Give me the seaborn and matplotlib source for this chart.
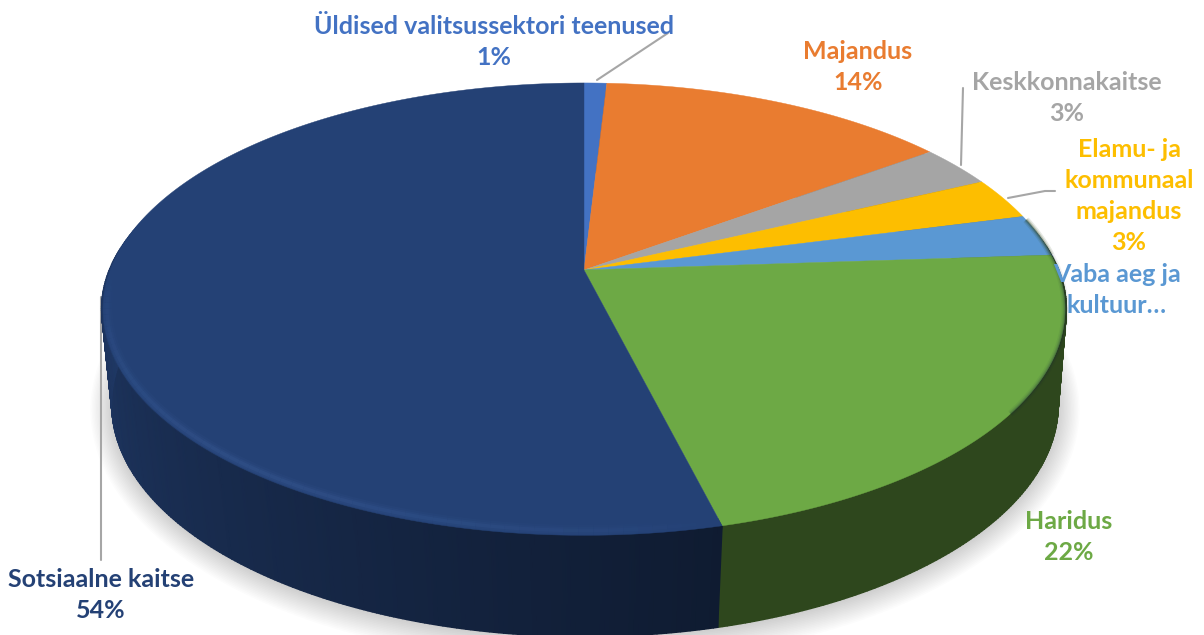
import matplotlib.pyplot as plt
import numpy as np
import seaborn as sns

labels = ['Üldised valitsussektori teenused\n1%', 'Majandus\n14%', 'Keskkonnakaitse\n3%',
          'Elamu- ja\nkommunaal\nmajandus\n3%', 'Vaba aeg ja\nkultuur…', 'Sotsiaalne kaitse\n54%', 'Haridus\n22%']
categories = ['Üldised', 'Majandus', 'Keskkond', 'Elamu', 'Vaba aeg', 'Haridus', 'Sotsiaalne']
values = [0.9, 14.0, 3.0, 3.0, 3.0, 22.2, 53.9]
colors = ['#4372C3', '#E97C30', '#A5A5A5', '#FDBE00', '#5A98D3', '#6DA945', '#244175']

sns.set_theme(style='white')
plt.rcParams['font.family'] = ['Lato', 'DejaVu Sans']
palette = sns.color_palette(colors)

# perspective of the disc: (half width, half height, tilt, centre x, centre y)
top_face = (473.8, 219.4, 0.173, 584, 270)
side_top = (475.3, 212, 0.173, 584, 271)
bottom = (468, 226.8, 0.15, 585, 370)


def project(deg, disc):
    g, f, k, cx, cy = disc
    a = np.radians(deg)
    d = 1 + k * np.cos(a)
    return cx + g * np.sin(a) / d, cy - f * np.cos(a) / d


def arc(start, end, disc):
    return project(np.linspace(start, end, max(int(abs(end - start) * 2), 2)), disc)


fig, ax = plt.subplots(figsize=(12.04, 6.35), dpi=100)
fig.subplots_adjust(0, 0, 1, 1)
ax.set_xlim(0, 1204)
ax.set_ylim(635, 0)
ax.axis('off')

edges = np.cumsum([0] + values) * 3.6

# soft shadow under the disc
for i in range(16):
    g, f, k, cx, cy = bottom
    sx, sy = arc(0, 360, (g + i * 1.4, f + i * 1.4, k, cx, cy + 2))
    ax.fill(sx, sy, color='black', alpha=0.01, lw=0, zorder=1)

# side wall, one smooth mesh per slice
for c, start, end in zip(palette, edges[:-1], edges[1:]):
    x0, y0 = arc(start, end, side_top)
    x1, y1 = arc(start, end, bottom)
    shade = np.clip(0.42 + 0.43 * (np.linspace(start, end, len(x0)) - 166) / 104, 0.42, 0.85)
    cmap = sns.blend_palette([np.array(c) * 0.42, np.array(c) * 0.85], as_cmap=True)
    ax.pcolormesh(np.array([x0, x1]), np.array([y0, y1]), np.array([shade, shade]),
                  shading='gouraud', cmap=cmap, vmin=0.42, vmax=0.85, zorder=2)

# face of the disc
for c, start, end in zip(palette, edges[:-1], edges[1:]):
    x, y = arc(start, end, top_face)
    ax.fill(np.r_[584, x], np.r_[270, y], color=c, lw=0.3, zorder=3)

# blurred edge: lit on the navy part, dark on the green part
inset = (469.8, 215.4, 0.173, 584, 270)
for a0 in np.arange(edges[5], 275, 1.5):
    x, y = arc(a0, a0 + 1.5, inset)
    glow = np.clip(np.sin(np.radians((a0 - 166) * 1.75)), 0, 1) ** 0.7
    for lw, al in [(8, 0.06), (5, 0.09), (2.5, 0.13)]:
        ax.plot(x, y, color='#4a70b0', lw=lw, alpha=al * glow, zorder=4, solid_capstyle='butt')
for lw, al in [(5, 0.12), (3, 0.2), (1.5, 0.3)]:
    x, y = arc(edges[4] + 1, edges[5], top_face)
    ax.plot(x, y, color='#2E451C', lw=lw, alpha=al, zorder=4, solid_capstyle='butt')
    x, y = arc(edges[5], edges[5] + 40, top_face)
    ax.plot(x, y, color='#101e38', lw=lw, alpha=al * 0.5, zorder=4, solid_capstyle='butt')

# leader lines
line_col = '#A6A6A6'
ax.plot([668, 597], [33, 80], color=line_col, lw=1.5, zorder=5)
ax.plot([963, 961], [88, 165], color=line_col, lw=1.5, zorder=5)
ax.plot([1055, 1045, 1008], [191, 191, 198], color=line_col, lw=1.5, zorder=5)
ax.plot([101, 101], [297, 560], color=line_col, lw=1.5, zorder=1.5)

label_pos = [(494, 42), (858, 67), (1067, 98), (1129, 196), (1117, 290), (101, 595), (1069, 537)]
label_col = [colors[0], colors[1], colors[2], colors[3], colors[4], colors[6], colors[5]]
for txt, (lx, ly), col in zip(labels, label_pos, label_col):
    ax.text(lx, ly, txt, color=col, fontsize=18, fontweight='bold', ha='center', va='center',
            linespacing=1.42, zorder=6)

plt.savefig('out.png', dpi=100)
